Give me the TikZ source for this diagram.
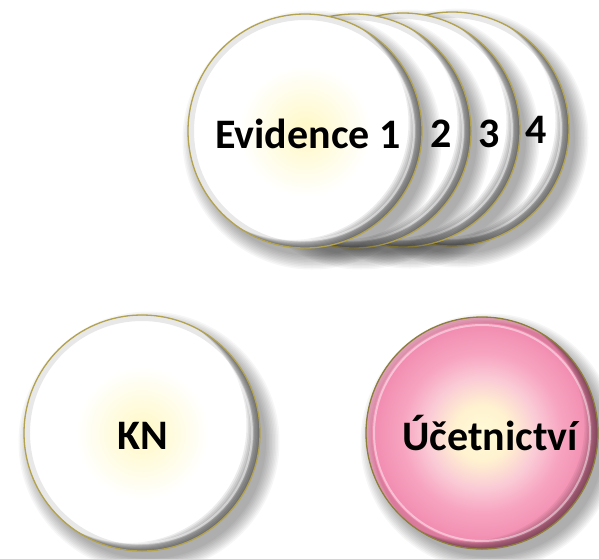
\documentclass[tikz,border=0pt]{standalone}
\usepackage{fontspec}
\setmainfont{Carlito}
\definecolor{glowy}{HTML}{FFF9CC}
\definecolor{rimw}{HTML}{B3A24E}
\definecolor{rimp}{HTML}{8E7E3C}
\definecolor{pkA}{HTML}{FFFBD6}
\definecolor{pkB}{HTML}{FFF2D0}
\definecolor{pkC}{HTML}{FACAD6}
\definecolor{pkD}{HTML}{F7A5C1}
\definecolor{pkE}{HTML}{F392B4}
\definecolor{pkF}{HTML}{EF84AA}
\pgfdeclareradialshading{wball}{\pgfpointorigin}{color(0bp)=(glowy); color(2bp)=(glowy); color(14bp)=(white); color(25bp)=(white); color(50bp)=(white)}
\pgfdeclareradialshading{pball}{\pgfpointorigin}{color(0bp)=(pkA); color(6bp)=(pkB); color(12bp)=(pkC); color(17bp)=(pkD); color(22bp)=(pkE); color(25bp)=(pkF); color(50bp)=(pkF)}
\newcommand\drawball[6]{%
  % soft drop shadow
  \foreach \k in {1,...,10}
    \fill[black, opacity=0.035] (#1+7,#2+9) circle[radius={(#3+14-1.5*\k)*1pt}];
  % body
  \shade[shading=#4] (#1,#2) circle[radius=#3pt];
  \begin{scope}
    \clip (#1,#2) circle[radius=#3pt];
    \foreach \k in {1,...,4}
      \fill[white, opacity=0.10, even odd rule] (#1,#2) circle[radius=#3pt] (#1+\k*1.6,#2+\k*1.4) circle[radius=#3pt];
    \foreach \k in {1,...,9}
      \fill[black, opacity=#6, even odd rule] (#1,#2) circle[radius=#3pt] (#1-\k*1.5,#2-\k*0.9) circle[radius=#3pt];
    \draw[black, opacity=0.09, line width=6pt] (#1,#2) circle[radius={(#3-3)*1pt}];
    \draw[white, opacity=0.45, line width=2pt] (#1,#2) circle[radius={(#3-8)*1pt}];
  \end{scope}
  \draw[#5, line width=1.3pt] (#1,#2) circle[radius=#3pt];
}
\tikzset{lbl/.style={font=\fontsize{42}{50}\selectfont\bfseries, text=black, inner sep=0pt, anchor=base}}
\begin{document}
\begin{tikzpicture}[x=1pt, y=-1pt]
\useasboundingbox (0,0) rectangle (599,558);
\fill[white] (0,0) rectangle (599,558);
\clip (0,0) rectangle (599,558);
% Evidence stack, back to front
\drawball{452}{129}{117}{wball}{rimw}{0.075}
\drawball{403}{130}{117}{wball}{rimw}{0.075}
\drawball{354}{131}{117}{wball}{rimw}{0.075}
\drawball{305}{131}{117}{wball}{rimw}{0.075}
% bottom circles
\drawball{142}{433}{118}{wball}{rimw}{0.075}
\drawball{482}{433}{116}{pball}{rimp}{0.05}
% labels
\node[lbl] (ev1) at (308,148) {Evidence 1};
\node[lbl] (ev2) at (441,147) {2};
\node[lbl] (ev3) at (489,147) {3};
\node[lbl] (ev4) at (536,143) {4};
\node[lbl] (kn) at (143,449) {KN};
\node[lbl] (uc) at (490,450) {Účetnictví};
\end{tikzpicture}
\end{document}
